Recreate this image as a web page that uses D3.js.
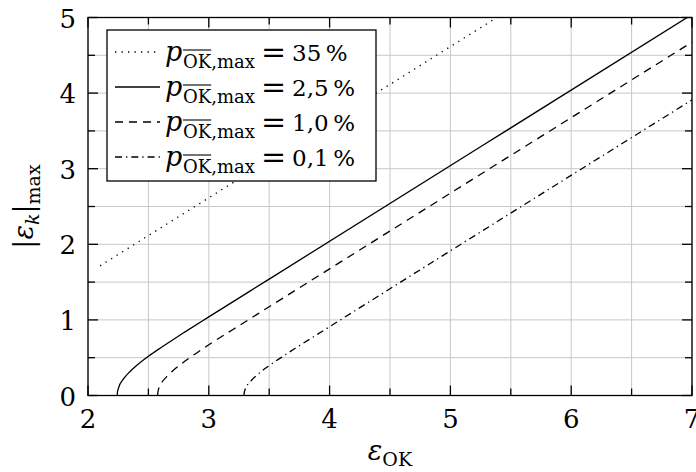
<!DOCTYPE html>
<html>
<head>
<meta charset="utf-8">
<script src="https://cdn.jsdelivr.net/npm/d3@7"></script>
<style>
  body { margin: 0; background: #fff; }
  text { font-family: "DejaVu Serif", serif; fill: #000; }
</style>
</head>
<body>
<svg id="chart" width="696" height="472"></svg>
<script>
// Axis ticks
const xMajor = [2, 3, 4, 5, 6, 7];
const yMajor = [0, 1, 2, 3, 4, 5];
const xMinor = [2.5, 3.5, 4.5, 5.5, 6.5];
const yMinor = [0.5, 1.5, 2.5, 3.5, 4.5];

// Curves: permitted |eps_k| over eps_OK for each error probability
const epsP35 = [2.1, 5.385];
const magP35 = [1.715, 5.0];
const epsP25 = [2.2414, 2.245, 2.25, 2.3, 2.35, 2.4, 2.5, 2.6, 2.7, 2.8, 3.0, 3.5, 7.0];
const magP25 = [0, 0.057, 0.088, 0.232, 0.321, 0.393, 0.518, 0.629, 0.735, 0.838, 1.04, 1.54, 5.04];
const epsP10 = [2.5758, 2.58, 2.6, 2.65, 2.7, 2.8, 2.9, 3.0, 3.2, 3.5, 7.0];
const magP10 = [0, 0.057, 0.139, 0.247, 0.324, 0.452, 0.563, 0.671, 0.873, 1.174, 4.674];
const epsP01 = [3.2905, 3.295, 3.3, 3.35, 3.4, 3.5, 3.6, 3.7, 4.0, 7.0];
const magP01 = [0, 0.052, 0.076, 0.195, 0.272, 0.395, 0.504, 0.608, 0.91, 3.91];

const legendValues = ["35\u2009%", "2,5\u2009%", "1,0\u2009%", "0,1\u2009%"];

const series = [
  { eps: epsP35, mag: magP35, dash: "1.3,5.2", legend: legendValues[0] },
  { eps: epsP25, mag: magP25, dash: null,      legend: legendValues[1] },
  { eps: epsP10, mag: magP10, dash: "8,6",     legend: legendValues[2] },
  { eps: epsP01, mag: magP01, dash: "7,4,1.3,4", legend: legendValues[3] }
];

const svg = d3.select("#chart");
const L = 88, R = 692, T = 17.5, B = 395.5;
const x = d3.scaleLinear().domain([2, 7]).range([L, R]);
const y = d3.scaleLinear().domain([0, 5]).range([B, T]);

// Grid every 0.5
const gridX = xMajor.concat(xMinor);
const gridY = yMajor.concat(yMinor);
const grid = svg.append("g").attr("stroke", "#c8c8c8").attr("stroke-width", 1);
grid.selectAll("line.gx").data(gridX).join("line").attr("class", "gx")
  .attr("x1", d => x(d)).attr("x2", d => x(d)).attr("y1", T).attr("y2", B);
grid.selectAll("line.gy").data(gridY).join("line").attr("class", "gy")
  .attr("x1", L).attr("x2", R).attr("y1", d => y(d)).attr("y2", d => y(d));

// Curves
svg.append("defs").append("clipPath").attr("id", "plotclip")
  .append("rect").attr("x", L).attr("y", T).attr("width", R - L).attr("height", B - T);

const line = d3.line()
  .x(d => x(d[0])).y(d => y(d[1]))
  .curve(d3.curveMonotoneX);

const curves = svg.append("g").attr("clip-path", "url(#plotclip)");
series.forEach(s => {
  const pts = s.eps.map((e, i) => [e, s.mag[i]]);
  curves.append("path")
    .attr("d", line(pts))
    .attr("fill", "none")
    .attr("stroke", "#000")
    .attr("stroke-width", 1.3)
    .attr("stroke-dasharray", s.dash);
});

// Inward ticks on all four sides
const ticks = svg.append("g").attr("stroke", "#000").attr("stroke-width", 1.3);
const majLen = 10, minLen = 7;
[[xMajor, majLen], [xMinor, minLen]].forEach(([vals, len]) => {
  vals.forEach(v => {
    ticks.append("line").attr("x1", x(v)).attr("x2", x(v)).attr("y1", B).attr("y2", B - len);
    ticks.append("line").attr("x1", x(v)).attr("x2", x(v)).attr("y1", T).attr("y2", T + len);
  });
});
[[yMajor, majLen], [yMinor, minLen]].forEach(([vals, len]) => {
  vals.forEach(v => {
    ticks.append("line").attr("x1", L).attr("x2", L + len).attr("y1", y(v)).attr("y2", y(v));
    ticks.append("line").attr("x1", R).attr("x2", R - len).attr("y1", y(v)).attr("y2", y(v));
  });
});

// Frame
svg.append("rect").attr("x", L).attr("y", T).attr("width", R - L).attr("height", B - T)
  .attr("fill", "none").attr("stroke", "#000").attr("stroke-width", 1.3);

// Tick labels
svg.append("g").selectAll("text").data(xMajor).join("text")
  .attr("x", d => x(d)).attr("y", B + 32)
  .attr("text-anchor", "middle").attr("font-size", 26)
  .text(d => d);
svg.append("g").selectAll("text").data(yMajor).join("text")
  .attr("x", L - 12).attr("y", d => y(d) + 10)
  .attr("text-anchor", "end").attr("font-size", 26)
  .text(d => d);

// Axis titles
const xt = svg.append("text").attr("x", (L + R) / 2).attr("y", 460)
  .attr("text-anchor", "middle").attr("font-size", 27);
xt.append("tspan").attr("font-style", "italic").text("ε");
xt.append("tspan").attr("font-size", 19).attr("dy", 6).text("OK");

const yt = svg.append("text")
  .attr("transform", `translate(33,${(T + B) / 2}) rotate(-90)`)
  .attr("text-anchor", "middle").attr("font-size", 27);
yt.append("tspan").text("|");
yt.append("tspan").attr("font-style", "italic").text("ε");
yt.append("tspan").attr("font-style", "italic").attr("font-size", 19).attr("dy", 6).text("k");
yt.append("tspan").attr("dy", -6).text("|");
yt.append("tspan").attr("font-size", 19).attr("dy", 7).text("max");

// Legend
const lg = svg.append("g");
lg.append("rect").attr("x", 107).attr("y", 30).attr("width", 269).attr("height", 151)
  .attr("fill", "#fff").attr("stroke", "#000").attr("stroke-width", 1.3);
series.forEach((s, i) => {
  const base = 61 + 35 * i;
  lg.append("line").attr("x1", 115).attr("x2", 160)
    .attr("y1", base - 9).attr("y2", base - 9)
    .attr("stroke", "#000").attr("stroke-width", 1.3)
    .attr("stroke-dasharray", s.dash);
  lg.append("text").attr("x", 165).attr("y", base)
    .attr("font-size", 27).attr("font-style", "italic").text("p");
  const sub = lg.append("text").attr("x", 183).attr("y", base + 7)
    .attr("font-size", 18).text("OK");
  const w = sub.node().getComputedTextLength();
  lg.append("line").attr("x1", 183).attr("x2", 183 + w)
    .attr("y1", base - 11).attr("y2", base - 11)
    .attr("stroke", "#000").attr("stroke-width", 1.1);
  lg.append("text").attr("x", 183 + w).attr("y", base + 7)
    .attr("font-size", 18).text(",max");
  lg.append("text").attr("x", 261).attr("y", base + 1)
    .attr("font-size", 30).text("=");
  lg.append("text").attr("x", 292).attr("y", base)
    .attr("font-size", 23).text(s.legend);
});
</script>
</body>
</html>
